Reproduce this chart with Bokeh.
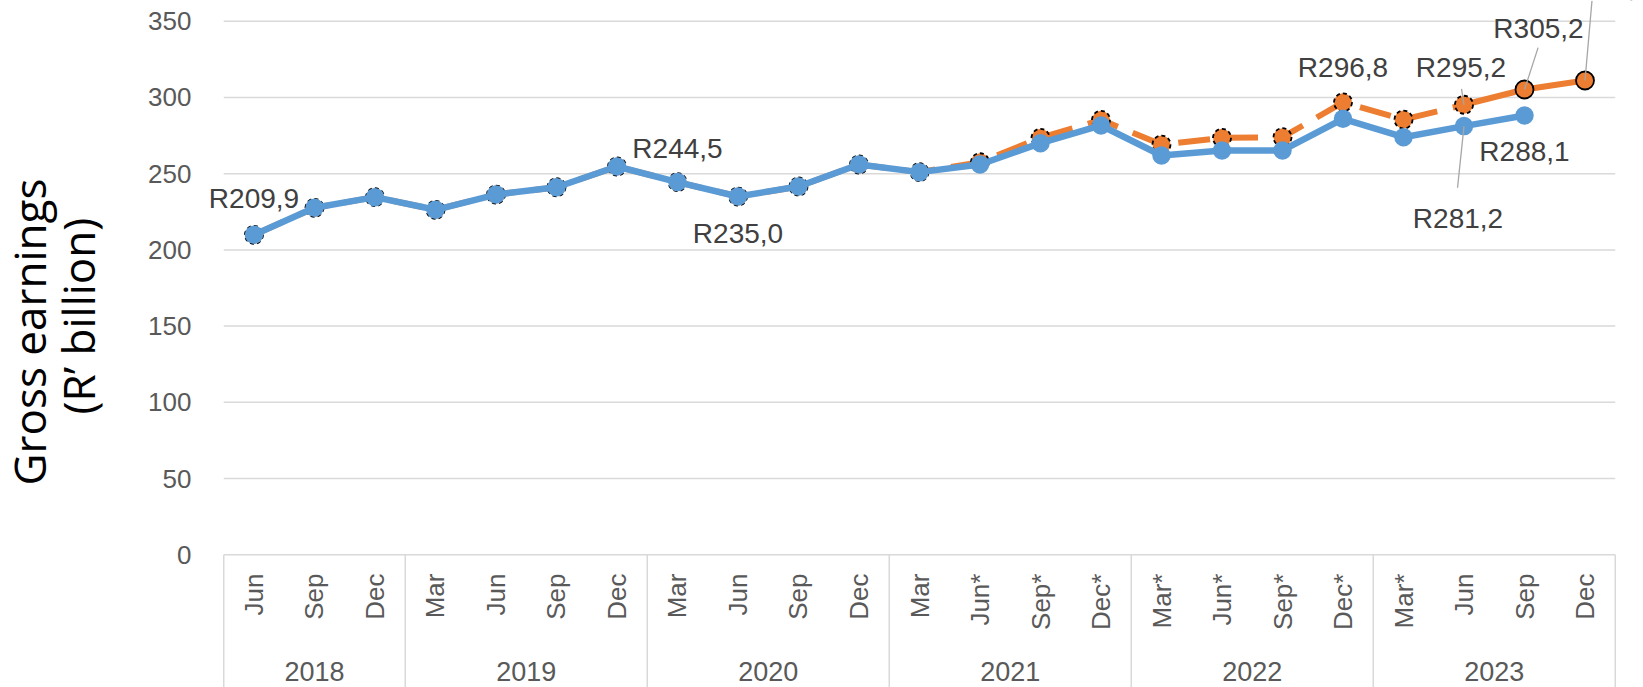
import math
from bokeh.plotting import figure
from bokeh.models import FactorRange, Range1d, FixedTicker, Title
from bokeh.embed import file_html
from bokeh.resources import INLINE
from bokeh.core.properties import value

# ---------------- data ----------------
years = ["2018", "2019", "2020", "2021", "2022", "2023"]
months = [
    ["Jun", "Sep", "Dec"],
    ["Mar", "Jun", "Sep", "Dec"],
    ["Mar", "Jun", "Sep", "Dec"],
    ["Mar", "Jun*", "Sep*", "Dec*"],
    ["Mar*", "Jun*", "Sep*", "Dec*"],
    ["Mar*", "Jun", "Sep", "Dec"],
]
# original series (blue), Jun 2018 - Sep 2023
blue_values = [209.9, 227.6, 234.6, 226.3, 236.3, 241.1, 254.7, 244.5, 235.0, 241.6,
               256.0, 251.0, 256.0, 270.0, 281.6, 261.9, 265.2, 265.2, 286.0, 273.9,
               281.2, 288.1]
# revised series (orange), Jun 2018 - Dec 2023
orange_values = [209.9, 227.6, 234.6, 226.3, 236.3, 241.1, 254.7, 244.5, 235.0, 241.6,
                 256.0, 251.0, 257.5, 273.5, 285.3, 269.1, 273.5, 273.9, 296.8, 285.5,
                 295.2, 305.2, 311.1]
y_ticks = [0, 50, 100, 150, 200, 250, 300, 350]
y_title = ["Gross earnings", "(R\u2019 billion)"]

factors = [(y, m) for y, ms in zip(years, months) for m in ms]

def rlabel(v):
    return "R" + f"{v:.1f}".replace(".", ",")

BLUE = "#5B9BD5"
ORANGE = "#ED7D31"
GRID = "#D9D9D9"
FONT = "Liberation Sans"

p = figure(width=1643, height=687,
           x_range=FactorRange(*factors, factor_padding=0, group_padding=0,
                               range_padding=0.0291, range_padding_units="percent"),
           y_range=Range1d(-87.04, 363.58),
           output_backend="svg", toolbar_location=None, x_axis_location=None,
           min_border_left=203, min_border_right=8, min_border_top=0, min_border_bottom=0)
p.outline_line_color = None
p.background_fill_color = "white"
p.border_fill_color = "white"

ticker = FixedTicker(ticks=y_ticks)
p.yaxis.ticker = ticker
p.yaxis.axis_line_color = None
p.yaxis.major_tick_line_color = None
p.yaxis.minor_tick_line_color = None
p.yaxis.major_label_text_font = FONT
p.yaxis.major_label_text_font_size = "26px"
p.yaxis.major_label_text_color = "#595959"
p.yaxis.major_label_standoff = 6
p.xgrid.visible = False
p.ygrid.visible = False

# horizontal gridlines across the category span
gx0 = [(factors[0][0], factors[0][1], -0.5)] * len(y_ticks)
gx1 = [(factors[-1][0], factors[-1][1], 0.5)] * len(y_ticks)
p.segment(x0=gx0, y0=y_ticks, x1=gx1, y1=y_ticks, line_color=GRID, line_width=1.5)

# category box separators
sep_x = [(y, ms[0], -0.5) for y, ms in zip(years, months)] + [(years[-1], months[-1][-1], 0.5)]
p.segment(x0=sep_x, y0=0, x1=sep_x, y1=-100, line_color=GRID, line_width=1.5)

# month labels and year labels
p.text(x=factors, y=-12.3, text=[m for _, m in factors], angle=math.pi / 2,
       text_align="right", text_baseline="middle", text_font=value(FONT),
       text_font_size="26px", text_color="#595959")
p.text(x=years, y=-76.5, text=years, text_align="center", text_baseline="middle",
       text_font=value(FONT), text_font_size="27px", text_color="#595959")

# orange (revised) series
n_dash = 21
p.line(factors[:n_dash], orange_values[:n_dash], line_color=ORANGE, line_width=6,
       line_dash="32 16", line_join="round")
p.line(factors[n_dash - 1:], orange_values[n_dash - 1:], line_color=ORANGE, line_width=6,
       line_join="round", line_cap="round")
p.scatter(factors[:n_dash], orange_values[:n_dash], size=18, fill_color=ORANGE,
          line_color="black", line_width=1.8, line_dash="4 3")
p.scatter(factors[n_dash:], orange_values[n_dash:], size=18, fill_color=ORANGE,
          line_color="black", line_width=1.8)

# blue (original) series
bf = factors[:len(blue_values)]
p.line(bf, blue_values, line_color=BLUE, line_width=6.5, line_join="round")
p.scatter(bf, blue_values, size=18.5, fill_color=BLUE, line_color=None)

# leader lines (from point, screen-length rays)
leaders = [
    (orange_values, 20, 16, 99),
    (orange_values, 21, 44, 72),
    (orange_values, 22, 80, 85),
    (blue_values, 20, 62, 264),
]
for series, i, ln, ang in leaders:
    p.ray(x=[factors[i]], y=[series[i]], length=ln, length_units="screen",
          angle=math.radians(ang), line_color="#A6A6A6", line_width=1.3)

# data labels: (series, index, x_offset, y_offset)
labels = [
    (blue_values, 0, 0, -36),
    (blue_values, 7, 0, -34),
    (blue_values, 8, 0, 37),
    (orange_values, 18, 0, -35),
    (orange_values, 20, -3, -37),
    (orange_values, 21, 14, -61),
    (orange_values, 22, 22, -93),
    (blue_values, 20, -6, 92),
    (blue_values, 21, 0, 36),
]
for series, i, dx, dy in labels:
    p.text(x=[factors[i]], y=[series[i]], text=[rlabel(series[i])], x_offset=dx, y_offset=dy,
           text_align="center", text_baseline="middle", text_font=value(FONT),
           text_font_size="28px", text_color="#404040")

# y axis title: two lines, inner line first
t_inner = Title(text=y_title[1], align="left", offset=273, standoff=75.6,
                text_font="Open Sans", text_font_size="44px", text_font_style="normal",
                text_color="black")
t_outer = Title(text=y_title[0], align="left", offset=202, standoff=-102.8,
                text_font="Open Sans", text_font_size="44px", text_font_style="normal",
                text_color="black")
p.add_layout(t_inner, "left")
p.add_layout(t_outer, "left")

open("out.html", "w").write(file_html(p, INLINE))
